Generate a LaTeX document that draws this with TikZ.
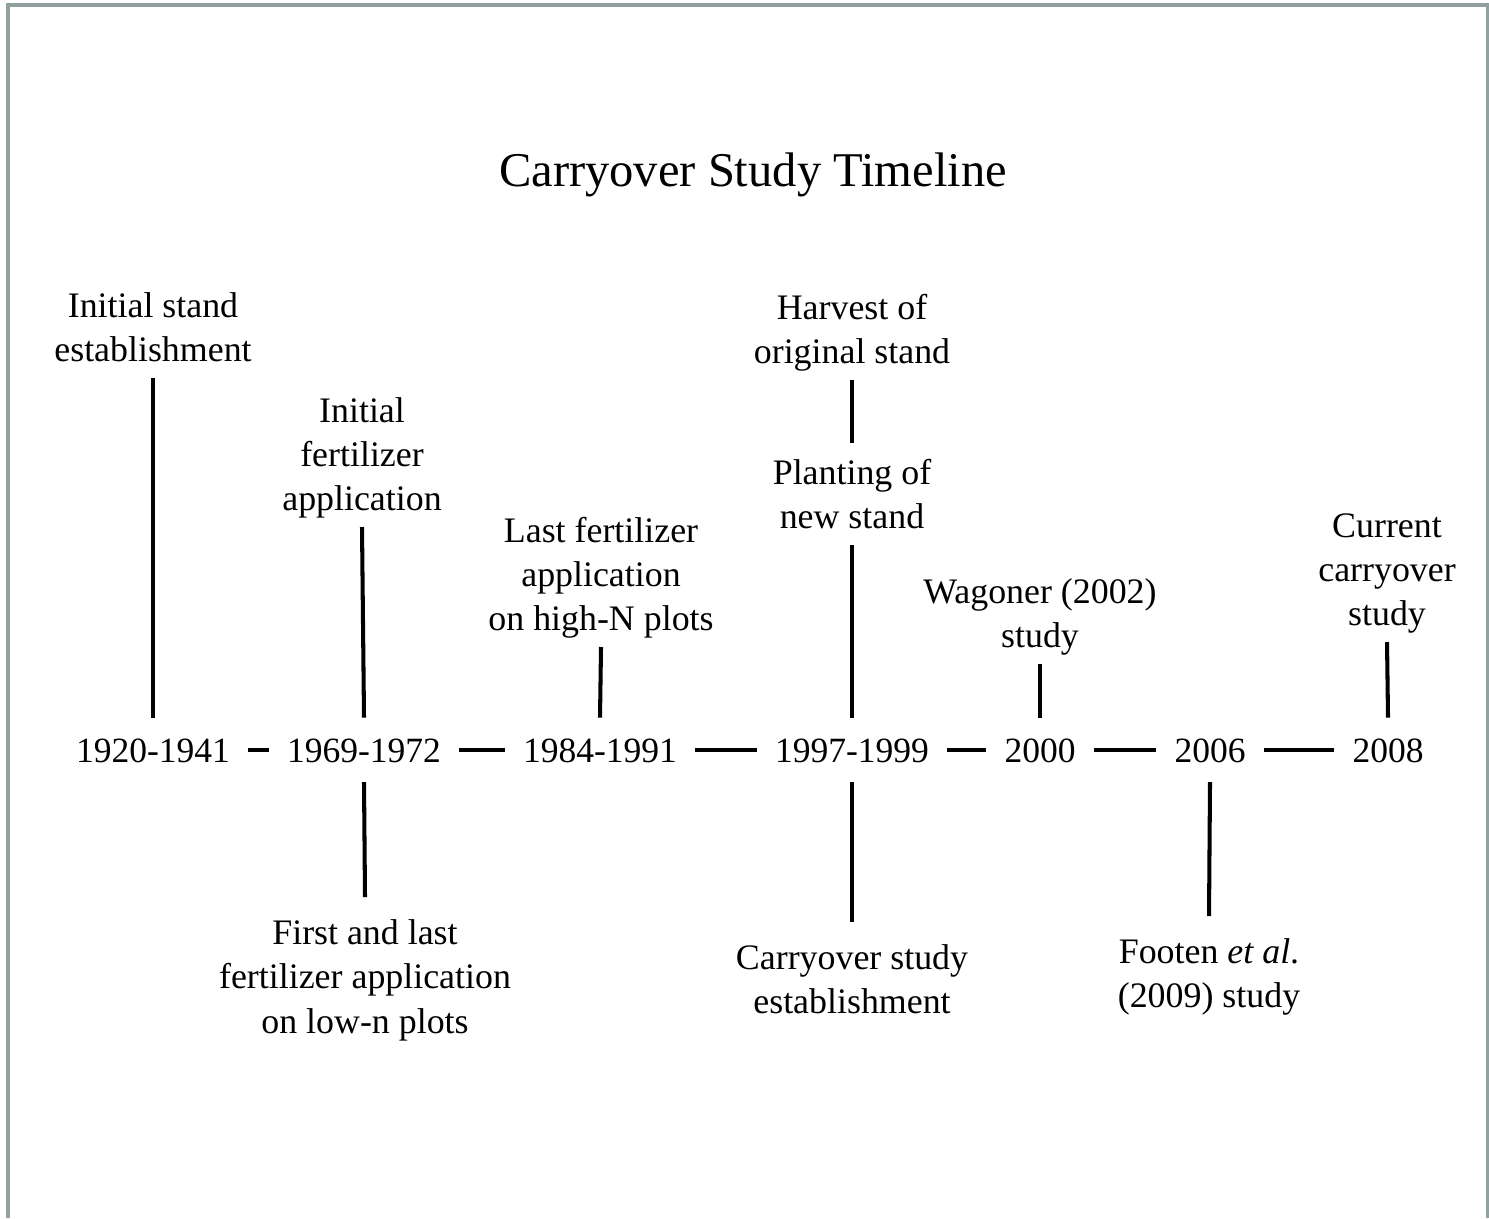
\documentclass[tikz,border=0pt]{standalone}
\usepackage{fontspec}
\setmainfont{Liberation Serif}
\usepackage{tikz}
\definecolor{framegray}{RGB}{144,160,158}

\begin{document}
\begin{tikzpicture}[x=0.01cm,y=-0.01cm,
	yr/.style={font=\fontsize{10.1}{12.4}\selectfont, text height=6.9pt, text depth=0pt, inner xsep=5pt, inner ysep=5.5pt},
	lab/.style={align=center, font=\fontsize{10.2}{12.6}\selectfont, text depth=0pt, inner xsep=0pt},
	labup/.style={lab, anchor=south, inner ysep=4.4pt},
	labdown/.style={lab, anchor=north, inner ysep=6.2pt},
	tick/.style={line width=1.15pt}]
					
					\useasboundingbox (0,0) rectangle (1489,1218);
					\draw[framegray, line width=0.03cm] (8,1218) -- (8,5) -- (1487,5) -- (1487,1218);
					
					\node (title) at (753,186)[anchor=base, font=\fontsize{13.8}{16}\selectfont] {Carryover Study Timeline};
					
					% years on the axis
					\node[yr, anchor=base] (y1920) at (153,762) {1920-1941};
					\node[yr, anchor=base] (y1969) at (364,762) {1969-1972};
					\node[yr, anchor=base] (y1984) at (600,762) {1984-1991};
					\node[yr, anchor=base] (y1997) at (852,762) {1997-1999};
					\node[yr, anchor=base] (y2000) at (1040,762) {2000};
					\node[yr, anchor=base] (y2006) at (1210,762) {2006};
					\node[yr, anchor=base] (y2008) at (1388,762) {2008};
					
					\draw[tick] (y1920.east) -- (y1969.west);
					\draw[tick] (y1969.east) -- (y1984.west);
					\draw[tick] (y1984.east) -- (y1997.west);
					\draw[tick] (y1997.east) -- (y2000.west);
					\draw[tick] (y2000.east) -- (y2006.west);
					\draw[tick] (y2006.east) -- (y2008.west);
					
					% events above
					\node[labup] (stand) at (153,378) {Initial stand\\establishment};
					\node[labup] (firstfert) at (362,527) {Initial\\fertilizer\\application};
					\node[labup] (lasthigh) at (601,647) {Last fertilizer\\application\\on high-N plots};
					\node[labup] (harvest) at (852,380) {Harvest of\\original stand};
					\node[labup] (planting) at (852,545) {Planting of\\new stand};
					\node[labup] (wagoner) at (1040,664) {Wagoner (2002)\\study};
					\node[labup] (current) at (1387,642) {Current\\carryover\\study};
					
					% events below
					\node[labdown] (lowplots) at (365,897) {First and last\\fertilizer application\\on low-n plots};
					\node[labdown] (estab) at (852,922) {Carryover study\\establishment};
					\node[labdown] (footen) at (1209,916) {Footen \textit{et al}.\\(2009) study};
					
					\draw[tick] (stand.south) -- (y1920.north);
					\draw[tick] (firstfert.south) -- (y1969.north);
					\draw[tick] (y1969.south) -- (lowplots.north);
					\draw[tick] (lasthigh.south) -- (y1984.north);
					\draw[tick] (harvest.south) -- (planting.north);
					\draw[tick] (planting.south) -- (y1997.north);
					\draw[tick] (y1997.south) -- (estab.north);
					\draw[tick] (wagoner.south) -- (y2000.north);
					\draw[tick] (y2006.south) -- (footen.north);
					\draw[tick] (current.south) -- (y2008.north);
					
			\end{tikzpicture}
\end{document}
